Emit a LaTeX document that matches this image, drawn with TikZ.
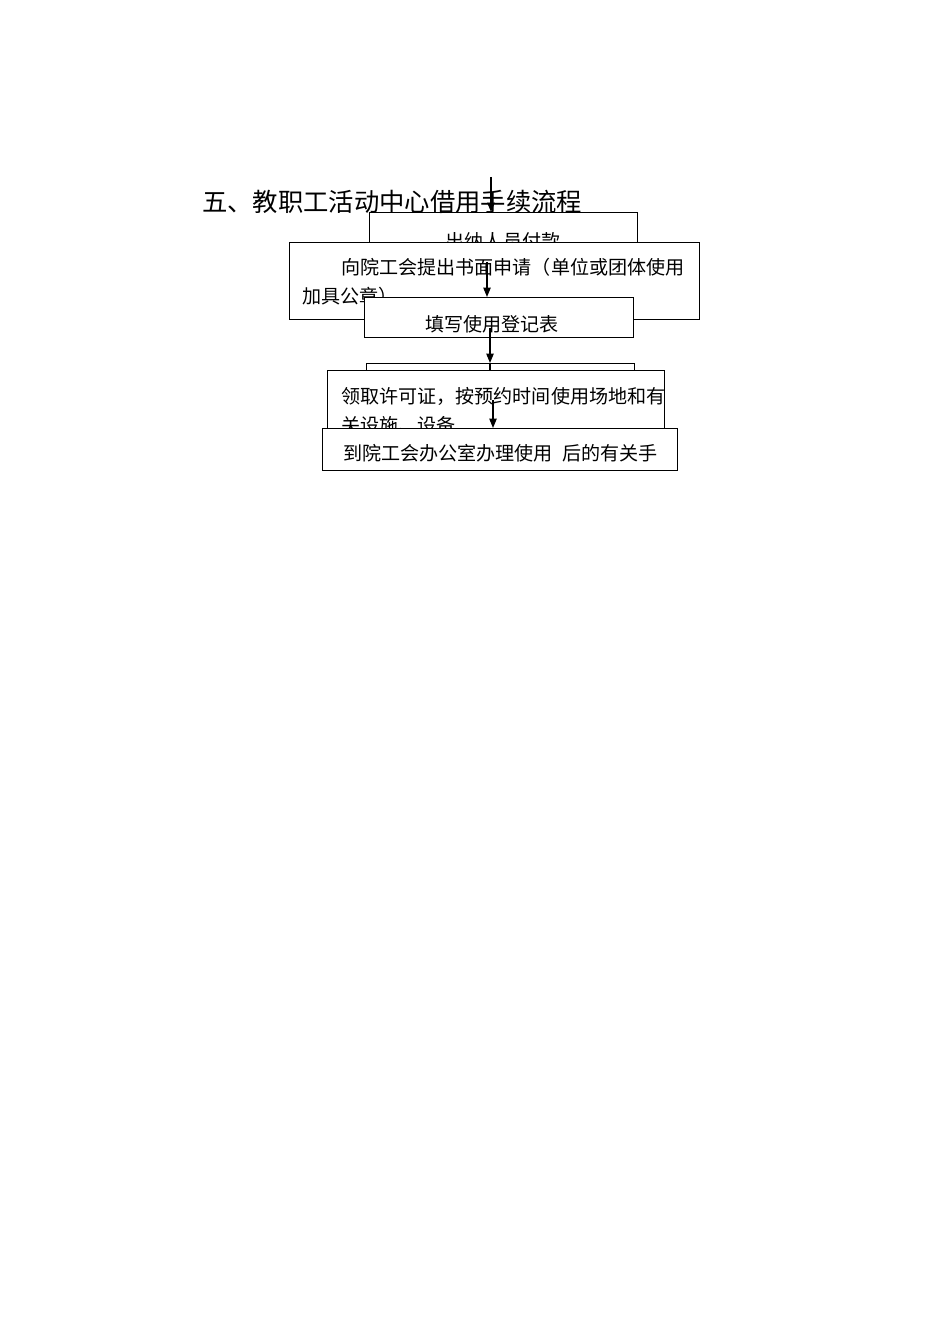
\documentclass[tikz,border=0pt]{standalone}
\usepackage{fontspec}
\setmainfont{Noto Sans CJK SC}
\newfontfamily\cjkfont{Noto Sans CJK SC}
\usetikzlibrary{arrows.meta}
\begin{document}
\begin{tikzpicture}[x=0.75pt,y=-0.75pt,
  box/.style={draw,fill=white,line width=1pt,inner sep=0pt,anchor=north west},
  txt/.style={inner sep=0pt,font=\cjkfont\fontsize{14.3pt}{17pt}\selectfont},
  ttl/.style={inner sep=0pt,font=\cjkfont\fontsize{19pt}{22pt}\selectfont},
  arr/.style={line width=0.9pt,-{Triangle[length=7pt,width=5.5pt]}},
  ln/.style={line width=0.9pt}]
\useasboundingbox[fill=white] (0,0) rectangle (950,1344);
% box 1 (behind)
\node[box,minimum width={268*0.75pt},minimum height={40*0.75pt}] (b1) at (369,212) {};
\node[txt,anchor=base] (t1) at (503,249) {出纳人员付款};
% arrow 1
\coordinate (a1) at (491,177);
\draw[arr] (a1) -- (a1 |- b1.north);
% title
\node[ttl,anchor=base west] (title) at (202,212) {五、教职工活动中心借用手续流程};
% box 2
\node[box,minimum width={410*0.75pt},minimum height={77*0.75pt}] (b2) at (289,242) {};
\node[txt,anchor=base west] (t2a) at (341,275) {向院工会提出书面申请（单位或团体使用};
\node[txt,anchor=base west] (t2b) at (302,304) {加具公章）};
% box 3
\node[box,minimum width={269*0.75pt},minimum height={40*0.75pt}] (b3) at (364,297) {};
\coordinate (a2) at (487,262);
\draw[arr] (a2) -- (a2 |- b3.north);
\node[txt,anchor=base] (t3) at (492,331) {填写使用登记表};
% box 4 (behind)
\node[box,minimum width={268*0.75pt},minimum height={30*0.75pt}] (b4) at (366,363) {};
% box 5
\coordinate (a3) at (490,328);
\draw[arr] (a3) -- (a3 |- b4.north);
\node[box,minimum width={337*0.75pt},minimum height={70*0.75pt}] (b5) at (327,370) {};
\draw[ln] (a3 |- b4.north) -- (a3 |- b5.north);
\node[txt,anchor=base west] (t5a) at (341,403) {领取许可证，按预约时间使用场地和有};
\node[txt,anchor=base west] (t5b) at (341,432) {关设施、设备};
% box 6
\node[box,minimum width={355*0.75pt},minimum height={42*0.75pt}] (b6) at (322,428) {};
\coordinate (a4) at (493,400);
\draw[arr] (a4) -- (a4 |- b6.north);
\node[txt,anchor=base west] (t6) at (343,460) {到院工会办公室办理使用\hspace{0.5em}后的有关手};
\end{tikzpicture}
\end{document}
